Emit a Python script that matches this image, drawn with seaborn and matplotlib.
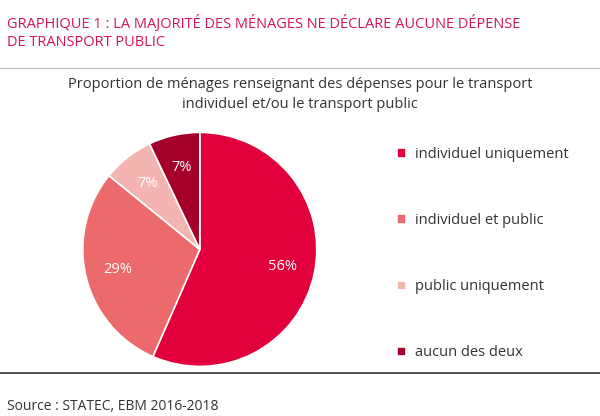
"""
Graphique 1 : proportion de ménages déclarant des dépenses de transport.
"""

import matplotlib
matplotlib.use("Agg")  # non-interactive backend
import matplotlib.pyplot as plt
from matplotlib.lines import Line2D
import seaborn as sns

sns.set_theme(style="white")
plt.rcParams.update({
    "font.family": ["Open Sans", "DejaVu Sans"],
    "figure.dpi": 100,
})

# Data
categories = ["individuel uniquement", "individuel et public", "public uniquement", "aucun des deux"]
shares = [56, 29, 7, 7]
pct_labels = ["56%", "29%", "7%", "7%"]
colors = ["#E2003C", "#EC6A6C", "#F4B5B1", "#A5002C"]


def build_figure():
    """Pie chart of households by type of transport spending."""
    fig = plt.figure(figsize=(6.0, 4.16))

    fig.text(0.012, 0.965, "GRAPHIQUE 1 : LA MAJORITÉ DES MÉNAGES NE DÉCLARE AUCUNE DÉPENSE\nDE TRANSPORT PUBLIC",
             color="#D4145A", fontsize=10.5, va="top", ha="left", linespacing=1.3)
    fig.text(0.5, 0.815, "Proportion de ménages renseignant des dépenses pour le transport\nindividuel et/ou le transport public",
             color="#333333", fontsize=10.5, va="top", ha="center", linespacing=1.5)
    fig.text(0.012, 0.015, "Source : STATEC, EBM 2016-2018", color="#333333", fontsize=10, ha="left")

    # Frame lines
    fig.add_artist(Line2D([0.0, 1.0], [0.837, 0.837], color="#BBBBBB", lw=0.8))
    fig.add_artist(Line2D([0.0, 1.0], [0.104, 0.104], color="#333333", lw=1.2))

    ax = fig.add_axes([0.138, 0.118, 0.39, 0.565])
    wedges, texts = ax.pie(shares, colors=colors, startangle=90, counterclock=False,
                           labels=pct_labels, labeldistance=0.72, radius=1.25,
                           wedgeprops={"edgecolor": "white", "linewidth": 1.2},
                           textprops={"color": "white", "fontsize": 10.5})
    for t in texts:
        t.set_ha("center")
    ax.set_aspect("equal")

    leg = fig.legend(wedges, categories, loc="center left", bbox_to_anchor=(0.64, 0.39),
                     frameon=False, fontsize=10.5, labelspacing=3.5, handlelength=0.6,
                     handleheight=0.6, handletextpad=0.6)
    for t in leg.get_texts():
        t.set_color("#333333")

    fig.savefig("out.png")
    plt.close(fig)


if __name__ == "__main__":
    build_figure()
